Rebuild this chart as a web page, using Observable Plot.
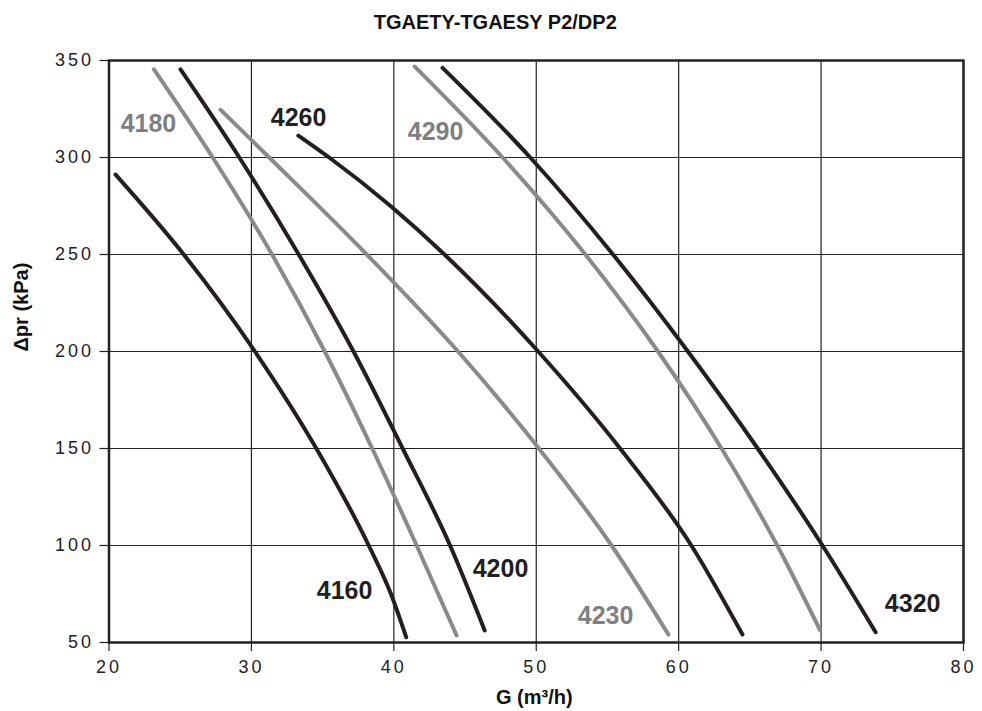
<!DOCTYPE html>
<html>
<head>
<meta charset="utf-8">
<script src="https://cdn.jsdelivr.net/npm/d3@7"></script>
<script src="https://cdn.jsdelivr.net/npm/@observablehq/plot@0.6"></script>
<style>
  html, body { margin: 0; padding: 0; background: #fff; }
  #chart { width: 982px; height: 711px; }
  svg { display: block; }
  g[aria-label="x-axis tick label"] text,
  g[aria-label="y-axis tick label"] text { font-size: 18px; letter-spacing: 3px; }
</style>
</head>
<body>
<div id="chart"></div>
<script>
// ---- Data ----
const title = "TGAETY-TGAESY P2/DP2";
const xLabel = "G (m³/h)";
const yLabel = "Δpr (kPa)";
const xTicks = [20, 30, 40, 50, 60, 70, 80];
const yTicks = [50, 100, 150, 200, 250, 300, 350];

const seriesNames  = ["4160", "4180", "4200", "4230", "4260", "4290", "4320"];
const seriesShade  = ["dark", "light", "dark", "light", "dark", "light", "dark"];

const g4160 = [20.46, 25.25, 30.25, 34.56, 38.24, 39.8, 40.87];
const p4160 = [291.2, 250, 200, 150, 100, 75, 52.7];

const g4180 = [23.15, 27.28, 31.45, 35.15, 38.48, 41.6, 44.41];
const p4180 = [345.4, 300, 250, 200, 150, 100, 53.6];

const g4200 = [25.02, 29.15, 33.32, 37.17, 40.62, 43.95, 46.38];
const p4200 = [345.4, 300, 250, 200, 150, 100, 56.2];

const g4230 = [27.83, 31.25, 38.1, 44.51, 50.19, 55.29, 59.28];
const p4230 = [324.6, 300, 250, 200, 150, 100, 54.1];

const g4260 = [33.29, 35.46, 39.77, 43.56, 50.14, 55.89, 60.89, 64.48];
const p4260 = [311.3, 300, 275, 250, 200, 150, 100, 54.1];

const g4290 = [41.47, 47.64, 53.45, 58.55, 63.01, 66.92, 69.94];
const p4290 = [346.9, 300, 250, 200, 150, 100, 56.2];

const g4320 = [43.42, 49.58, 55.39, 60.65, 65.55, 70.1, 73.83];
const p4320 = [346.2, 300, 250, 200, 150, 100, 55.3];

// label anchor positions (data coordinates)
const labelG = [36.54, 22.77, 47.49, 54.87, 33.31, 42.93, 76.43];
const labelP = [76.8, 317.5, 88.1, 63.9, 320.6, 312.9, 69.6];

// ---- Build tables ----
const gArr = [g4160, g4180, g4200, g4230, g4260, g4290, g4320];
const pArr = [p4160, p4180, p4200, p4230, p4260, p4290, p4320];
const rows = [];
seriesNames.forEach((s, i) => {
  gArr[i].forEach((g, j) => rows.push({series: s, shade: seriesShade[i], g, p: pArr[i][j]}));
});
const labels = seriesNames.map((s, i) => ({series: s, shade: seriesShade[i], g: labelG[i], p: labelP[i]}));

const DARK = "#231f20";
const LIGHT = "#8a8a8b";
const LABEL_LIGHT = "#7f7f81";
const font = "'Liberation Sans', Arial, Helvetica, sans-serif";

const chart = Plot.plot({
  width: 982,
  height: 711,
  marginLeft: 108.5,
  marginRight: 19,
  marginTop: 60,
  marginBottom: 69,
  style: {fontFamily: font, background: "#fff", overflow: "visible"},
  x: {domain: [20, 80], ticks: xTicks},
  y: {domain: [50, 350], ticks: yTicks},
  marks: [
    Plot.gridX(xTicks, {stroke: "#222", strokeOpacity: 1, strokeWidth: 1.2}),
    Plot.gridY(yTicks, {stroke: "#222", strokeOpacity: 1, strokeWidth: 1.2}),
    Plot.line(rows.filter(d => d.shade === "light"), {
      x: "g", y: "p", z: "series", stroke: LIGHT, strokeWidth: 4,
      strokeLinecap: "round", curve: "monotone-x"
    }),
    Plot.line(rows.filter(d => d.shade === "dark"), {
      x: "g", y: "p", z: "series", stroke: DARK, strokeWidth: 4,
      strokeLinecap: "round", curve: "monotone-x"
    }),
    Plot.frame({stroke: "#222", strokeWidth: 2.5}),
    Plot.axisX(xTicks, {
      tickSize: 9, tickPadding: 9, stroke: "#222", strokeWidth: 1.2,
      fontSize: 18, fill: "#222", label: null
    }),
    Plot.axisY(yTicks, {
      tickSize: 9, tickPadding: 6, stroke: "#222", strokeWidth: 1.2,
      fontSize: 18, fill: "#222", label: null
    }),
    Plot.text(labels, {
      x: "g", y: "p", text: "series",
      fill: d => d.shade === "dark" ? DARK : LABEL_LIGHT,
      fontSize: 25, fontWeight: "bold", textAnchor: "middle", lineAnchor: "middle"
    }),
    Plot.text([title], {
      frameAnchor: "top", dx: -41, dy: -37.5, text: d => d,
      fontSize: 20, fontWeight: "bold", fill: "#111", lineAnchor: "middle"
    }),
    Plot.text([xLabel], {
      frameAnchor: "bottom", dx: -2, dy: 55, text: d => d,
      fontSize: 20, fontWeight: "bold", fill: "#111", lineAnchor: "middle"
    }),
    Plot.text([yLabel], {
      frameAnchor: "left", dx: -87.5, rotate: -90, text: d => d,
      fontSize: 20, fontWeight: "bold", fill: "#111", lineAnchor: "middle"
    })
  ]
});
document.getElementById("chart").appendChild(chart);
</script>
</body>
</html>
